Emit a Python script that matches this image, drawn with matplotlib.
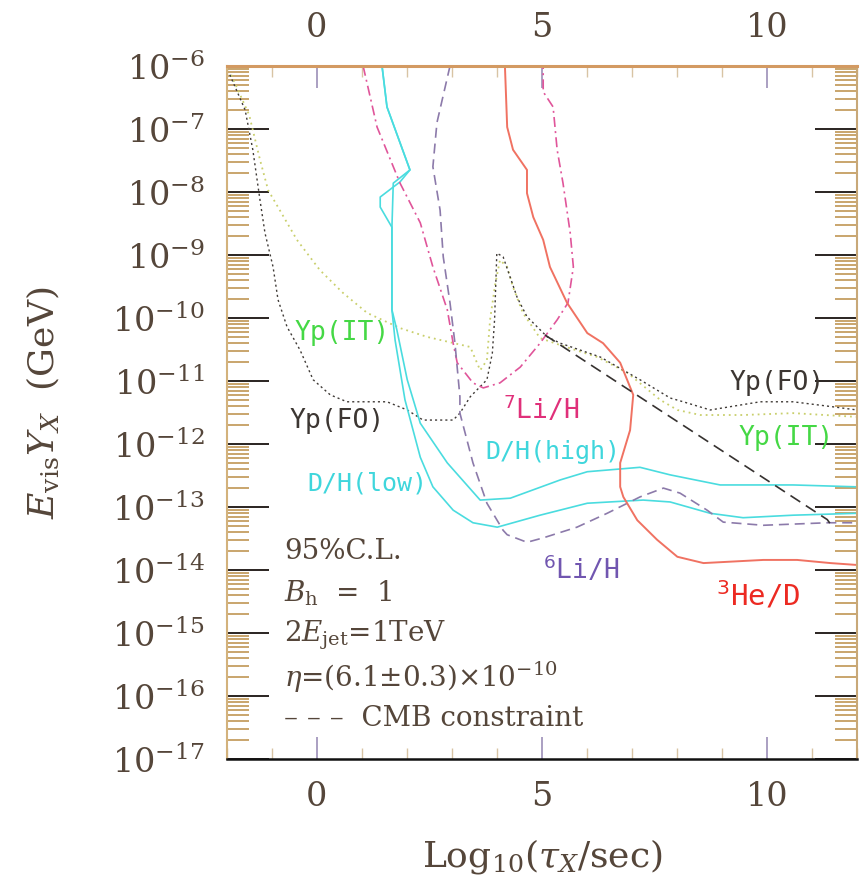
import matplotlib
matplotlib.use("Agg")
import matplotlib.pyplot as plt
from matplotlib.ticker import FixedLocator, FuncFormatter, NullFormatter
import numpy as np

plt.rcParams['font.family'] = ['DejaVu Serif']
plt.rcParams['mathtext.fontset'] = 'dejavuserif'

# x = log10(tau_X / sec), ly = log10(E_vis Y_X / GeV)
dh_high_x = [1.45, 1.56, 2.07, 1.70, 1.67, 1.67, 1.78, 2.01, 2.30, 2.90, 3.63, 4.30,
             5.41, 6.01, 7.18, 7.85, 8.96, 10.58, 12.0]
dh_high_ly = [-6.0, -6.65, -7.65, -7.86, -8.56, -9.87, -10.19, -10.98, -11.67, -12.30,
              -12.89, -12.86, -12.57, -12.44, -12.37, -12.49, -12.65, -12.65, -12.68]

dh_low_x = [1.45, 1.56, 2.07, 1.85, 1.41, 1.41, 1.67, 1.67, 1.74, 1.96, 2.30, 2.58,
            3.03, 3.47, 4.01, 4.96, 6.01, 7.25, 7.85, 8.74, 9.47, 10.58, 12.0]
dh_low_ly = [-6.0, -6.65, -7.65, -7.84, -8.08, -8.24, -8.56, -9.87, -10.35, -11.30,
             -12.21, -12.68, -13.05, -13.25, -13.32, -13.13, -12.94, -12.89, -12.92,
             -13.10, -13.17, -13.13, -13.10]

li7_x = [1.03, 1.34, 1.85, 2.30, 2.58, 2.90, 3.03, 3.12, 3.47, 3.70, 4.07, 4.52, 4.96,
         5.34, 5.58, 5.70, 5.63, 5.47, 5.34, 5.25, 5.03, 5.03]
li7_ly = [-6.0, -6.97, -7.86, -8.49, -9.19, -9.87, -10.40, -10.71, -11.03, -11.11,
          -11.03, -10.78, -10.40, -10.03, -9.76, -9.19, -8.65, -7.86, -7.33, -6.65,
          -6.41, -6.0]

li6_x = [2.96, 2.67, 2.58, 2.74, 2.81, 2.96, 3.07, 3.18, 3.18, 3.47, 3.78, 4.14, 4.23,
         4.67, 5.03, 5.78, 6.45, 7.18, 7.70, 8.07, 8.67, 9.03, 9.92, 11.34, 12.0]
li6_ly = [-6.0, -6.90, -7.60, -8.29, -9.03, -9.76, -10.40, -11.25, -11.51, -12.30,
          -12.94, -13.37, -13.44, -13.56, -13.49, -13.32, -13.10, -12.84, -12.70,
          -12.78, -13.05, -13.24, -13.29, -13.25, -13.25]

he3_x = [4.18, 4.23, 4.36, 4.67, 4.67, 4.81, 5.03, 5.18, 5.56, 6.01, 6.36, 6.74, 7.03,
         6.96, 6.74, 6.74, 6.81, 7.12, 7.56, 8.01, 8.59, 9.92, 10.67, 11.41, 12.0]
he3_ly = [-6.0, -6.97, -7.33, -7.65, -8.02, -8.40, -8.76, -9.19, -9.76, -10.24, -10.40,
          -10.71, -11.22, -11.78, -12.30, -12.68, -12.84, -13.21, -13.52, -13.79,
          -13.89, -13.84, -13.84, -13.89, -13.92]

yp_fo_x = [-1.93, -1.59, -1.42, -1.26, -1.15, -0.97, -0.86, -0.66, -0.37, -0.08, 0.30,
           0.67, 1.56, 2.01, 2.36, 3.03, 3.18, 3.41, 3.78, 3.90, 3.95, 4.00, 4.14,
           4.45, 4.67, 5.12, 5.41, 6.30, 7.18, 7.85, 8.14, 8.74, 9.85, 10.58, 11.47, 12.0]
yp_fo_ly = [-6.14, -6.70, -7.33, -8.13, -8.65, -9.19, -9.71, -10.14, -10.51, -10.98,
            -11.22, -11.33, -11.33, -11.46, -11.62, -11.62, -11.51, -11.25, -10.98,
            -10.56, -10.03, -8.97, -9.03, -9.67, -9.98, -10.30, -10.40, -10.62, -10.98,
            -11.27, -11.33, -11.46, -11.33, -11.33, -11.41, -11.46]

yp_it_x = [-1.90, -1.50, -1.26, -1.08, -0.82, -0.44, 0.07, 0.58, 1.12, 1.85, 2.45,
           3.41, 3.63, 3.78, 3.85, 3.96, 4.07, 4.23, 4.36, 4.58, 4.96, 5.41, 6.23,
           6.90, 7.63, 8.01, 8.52, 9.47, 10.58, 12.0]
yp_it_ly = [-6.14, -6.78, -7.49, -7.97, -8.29, -8.76, -9.24, -9.60, -9.92, -10.16,
            -10.30, -10.46, -10.83, -10.67, -10.03, -9.48, -9.08, -9.19, -9.51, -9.92,
            -10.32, -10.43, -10.62, -10.87, -11.30, -11.46, -11.54, -11.54, -11.51,
            -11.57]

cmb_x = [5.07, 11.34, 11.41]
cmb_ly = [-10.27, -13.20, -13.27]

x_major = [0, 5, 10]
x_minor = [-2, -1, 1, 2, 3, 4, 6, 7, 8, 9, 11, 12]

fig = plt.figure(figsize=(8.6, 8.83), dpi=100)
ax = fig.add_axes([0.2636, 0.1404, 0.7329, 0.7849])


def draw(xs, lys, **kw):
    ax.plot(xs, 10.0 ** np.array(lys), **kw)


draw(yp_it_x, yp_it_ly, color='#c9cf6c', lw=1.3, ls=(0, (1, 2.2)))
draw(yp_fo_x, yp_fo_ly, color='#3f3a36', lw=1.0, ls=(0, (1.5, 2.2)))
draw(dh_high_x, dh_high_ly, color='#4adcdf', lw=1.2)
draw(dh_low_x, dh_low_ly, color='#4adcdf', lw=1.2)
draw(li7_x, li7_ly, color='#e0559a', lw=1.2, ls=(0, (6, 2.5, 1.2, 2.5)))
draw(li6_x, li6_ly, color='#8c7aaa', lw=1.2, ls=(0, (6, 3.5)))
draw(he3_x, he3_ly, color='#f07262', lw=1.4)
draw(cmb_x, cmb_ly, color='#363230', lw=1.2, ls=(0, (7, 4)))

ax.set_xlim(-2, 12)
ax.set_yscale('log')
ax.set_ylim(1e-17, 1e-6)

# ticks
ax.xaxis.set_major_locator(FixedLocator(x_major))
ax.xaxis.set_minor_locator(FixedLocator(x_minor))
ax.xaxis.set_minor_formatter(NullFormatter())
ax.yaxis.set_major_locator(FixedLocator([10.0 ** k for k in range(-17, -5)]))
ax.yaxis.set_minor_locator(FixedLocator([m * 10.0 ** k for k in range(-17, -6)
                                         for m in range(2, 10)]))
ax.yaxis.set_major_formatter(FuncFormatter(lambda v, p: r'$10^{%d}$' % round(np.log10(v))))
ax.yaxis.set_minor_formatter(NullFormatter())

lab_col = '#55463a'
ax.tick_params(axis='x', which='both', direction='in', top=True, bottom=True,
               labeltop=True, labelsize=24, labelcolor=lab_col, pad=16)
ax.tick_params(axis='x', which='major', length=16, width=1.2, color='#9c8fb8')
ax.tick_params(axis='x', which='minor', length=8, width=1.0, color='#d8c4a4')
ax.tick_params(axis='y', which='both', direction='in', left=True, right=True,
               labelsize=24, labelcolor=lab_col, pad=16)
ax.tick_params(axis='y', which='major', length=30, width=1.4, color='#2a2420')
ax.tick_params(axis='y', which='minor', length=16, width=1.4, color='#c9a56c')
for i, t in enumerate(ax.yaxis.get_minor_ticks()):
    if i % 8 in (0, 1, 2, 7):
        t.tick1line.set_color('#1e1a16')
        t.tick2line.set_color('#1e1a16')

ax.spines['top'].set_color('#d39a62')
ax.spines['top'].set_linewidth(2.2)
ax.spines['left'].set_color('#d3b27c')
ax.spines['left'].set_linewidth(1.5)
ax.spines['right'].set_color('#c8a878')
ax.spines['right'].set_linewidth(1.5)
ax.spines['bottom'].set_color('#111111')
ax.spines['bottom'].set_linewidth(1.8)

# curve labels
mono = ['DejaVu Sans Mono']
lbl = dict(family=mono, ha='center', va='center', math_fontfamily='dejavusans')
ax.text(0.57, 10 ** -10.24, 'Yp(IT)', color='#45d845', fontsize=19, **lbl)
ax.text(0.45, 10 ** -11.63, 'Yp(FO)', color='#3c3632', fontsize=19, **lbl)
ax.text(1.12, 10 ** -12.62, 'D/H(low)', color='#3fd6dc', fontsize=18, **lbl)
ax.text(4.99, 10 ** -11.45, r'$^{7}$Li/H', color='#e0307a', fontsize=19, **lbl)
ax.text(5.25, 10 ** -12.13, 'D/H(high)', color='#3fd6dc', fontsize=18, **lbl)
ax.text(5.87, 10 ** -14.0, r'$^{6}$Li/H', color='#7156b0', fontsize=19, **lbl)
ax.text(9.81, 10 ** -14.40, r'$^{3}$He/D', color='#ec2a22', fontsize=21, **lbl)
ax.text(10.23, 10 ** -11.03, 'Yp(FO)', color='#3c3632', fontsize=19, **lbl)
ax.text(10.43, 10 ** -11.90, 'Yp(IT)', color='#45d845', fontsize=19, **lbl)

# parameter block
info = ['95%C.L.',
        r'$B_{\rm h}$  =  1',
        r'2$E_{\rm jet}$=1TeV',
        r'$\eta$=(6.1$\pm$0.3)$\times$10$^{-10}$',
        '\u2013 \u2013 \u2013  CMB constraint']
info_ly = [-13.71, -14.37, -15.03, -15.70, -16.35]
for s, ly in zip(info, info_ly):
    ax.text(-0.72, 10 ** ly, s, color=lab_col, fontsize=20, ha='left', va='center')

fig.text(0.05, 0.544, r'$E_{\rm vis}Y_X$  (GeV)', rotation=90, fontsize=26,
         color=lab_col, ha='center', va='center')
fig.text(0.631, 0.03, r'Log$_{10}$($\tau_X$/sec)', fontsize=26, color=lab_col,
         ha='center', va='center')

fig.savefig('out.png', dpi=100)
